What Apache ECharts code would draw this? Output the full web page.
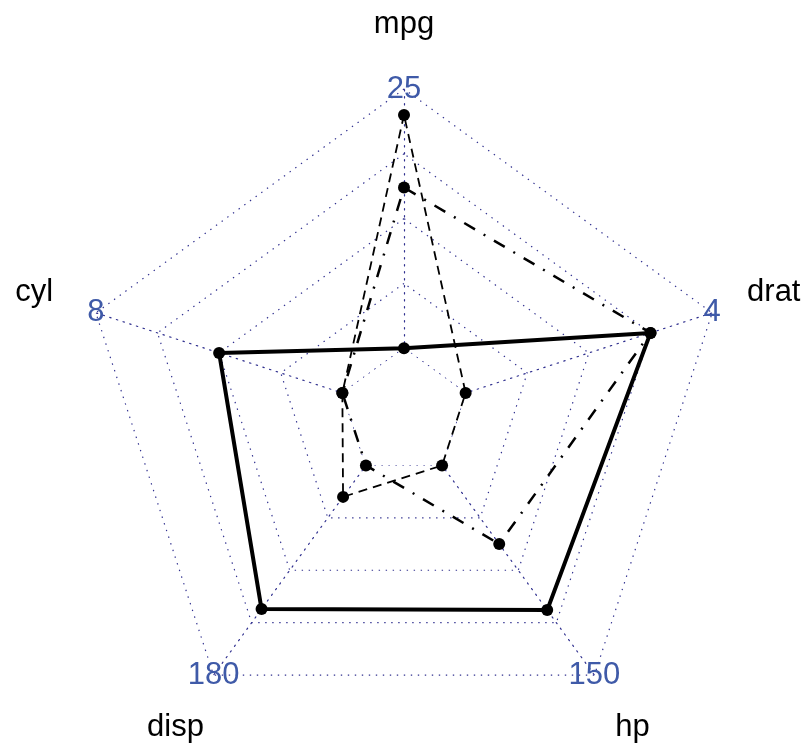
<!DOCTYPE html>
<html>
<head>
<meta charset="utf-8">
<script src="https://cdn.jsdelivr.net/npm/echarts@6/dist/echarts.min.js"></script>
<style>
  html, body { margin: 0; padding: 0; background: #fff; }
  #chart { width: 806px; height: 744px; }
</style>
</head>
<body>
<div id="chart"></div>
<script>
// Radar variables (drawn counter-clockwise from the top)
const indicatorNames = ['mpg', 'cyl', 'disp', 'hp', 'drat'];
const axisMax = [25, 8, 180, 150, 4];
const axisMin = [15, 4, 80, 50, 3];
const tickLabels = ['25', '8', '180', '150', '4'];

// Three cars
const carSolid = [15, 6, 148.5, 119, 3.75];
const carDashed = [24, 4, 95, 50, 3];
const carDotDash = [21.2, 4, 80, 87.5, 3.75];

const SEG = 4; // segments between min and max; one extra ring sits inside the min ring

// the centre of each axis sits one segment below the minimum
const indicators = indicatorNames.map((name, i) => ({
  name: name,
  max: axisMax[i],
  min: axisMin[i] - (axisMax[i] - axisMin[i]) / SEG
}));
const labelIndicators = tickLabels.map((t, i) => ({
  name: t,
  max: axisMax[i],
  min: indicators[i].min
}));

const CENTER = [404, 413];
const RADIUS = 324;
const gridStyle = { color: '#30308f', width: 1.2, type: [1.4, 5.6] };

const chart = echarts.init(document.getElementById('chart'), null, { renderer: 'canvas' });

chart.setOption({
  animation: false,
  backgroundColor: '#ffffff',
  radar: [
    {
      indicator: indicators,
      center: CENTER,
      radius: RADIUS,
      startAngle: 90,
      shape: 'polygon',
      splitNumber: SEG + 1,
      nameGap: RADIUS * 0.2,
      axisName: {
        color: '#000',
        fontSize: 31,
        fontFamily: 'Liberation Sans',
        align: 'center',
        verticalAlign: 'middle'
      },
      axisLine: { lineStyle: gridStyle },
      splitLine: { lineStyle: gridStyle },
      splitArea: { show: false },
      axisTick: { show: false },
      axisLabel: { show: false }
    },
    {
      // maximum value of each axis, printed at the outer vertex
      indicator: labelIndicators,
      center: CENTER,
      radius: RADIUS,
      startAngle: 90,
      shape: 'polygon',
      splitNumber: SEG + 1,
      nameGap: 0,
      axisName: {
        color: '#3f5aa8',
        fontSize: 31,
        fontFamily: 'Liberation Sans',
        align: 'center',
        verticalAlign: 'middle'
      },
      axisLine: { show: false },
      splitLine: { show: false },
      splitArea: { show: false },
      axisTick: { show: false },
      axisLabel: { show: false }
    }
  ],
  series: [
    {
      // blank core: the spokes start at the minimum ring
      type: 'radar',
      radarIndex: 0,
      z: 1,
      silent: true,
      symbol: 'none',
      data: [
        {
          value: axisMin,
          lineStyle: gridStyle,
          areaStyle: { color: '#ffffff', opacity: 1 }
        }
      ]
    },
    {
      type: 'radar',
      radarIndex: 0,
      z: 3,
      symbol: 'circle',
      symbolSize: 12,
      itemStyle: { color: '#000' },
      data: [
        {
          value: carSolid,
          lineStyle: { color: '#000', width: 4, type: 'solid' }
        },
        {
          value: carDashed,
          lineStyle: { color: '#000', width: 1.8, type: [9, 6] }
        },
        {
          value: carDotDash,
          lineStyle: { color: '#000', width: 2.5, type: [2, 10, 12.5, 10] }
        }
      ]
    }
  ]
});
</script>
</body>
</html>
